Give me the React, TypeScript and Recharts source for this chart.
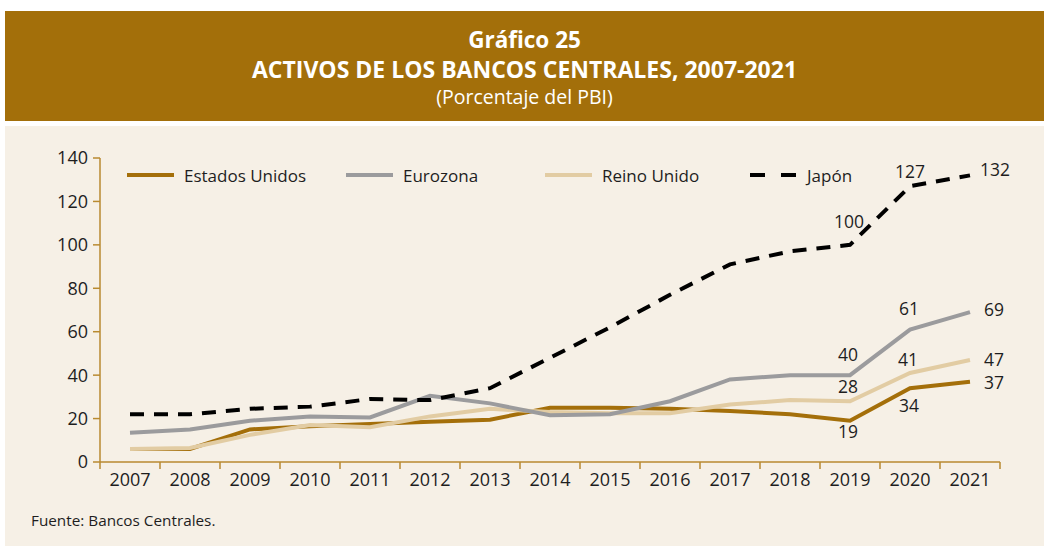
import React from "react";
import { LineChart, Line, XAxis, YAxis, LabelList } from "recharts";

const years = [2007, 2008, 2009, 2010, 2011, 2012, 2013, 2014, 2015, 2016, 2017, 2018, 2019, 2020, 2021];
const estadosUnidos = [6, 6, 15, 16.5, 17.5, 18.5, 19.5, 25, 25, 24.5, 23.5, 22, 19, 34, 37];
const eurozona = [13.5, 15, 19, 21, 20.5, 30.5, 27, 21.5, 22, 28, 38, 40, 40, 61, 69];
const reinoUnido = [6, 6.5, 12.5, 17, 16, 21, 24.5, 23, 22.5, 22.5, 26.5, 28.5, 28, 41, 47];
const japon = [22, 22, 24.5, 25.5, 29, 28.5, 34, 48, 62, 77, 91, 97, 100, 127, 132];
const yTicks = [0, 20, 40, 60, 80, 100, 120, 140];

const data = years.map((year, i) => ({
  year,
  eeuu: estadosUnidos[i],
  euro: eurozona[i],
  uk: reinoUnido[i],
  jp: japon[i],
}));

const FONT = "'Open Sans', 'Noto Sans', sans-serif";
const BROWN = "#a46f0a";
const GREY = "#9b9b9d";
const TAN = "#e2cca3";
const AXIS = "#b98a30";
const TEXT = "#1e1e1e";

const CHART_W = 1039;
const CHART_H = 420;
const MARGIN = { top: 32, right: 44, left: 0, bottom: 0 };
const Y_W = 95;
const PLOT_W = CHART_W - MARGIN.left - MARGIN.right - Y_W;
const BAND = PLOT_W / years.length;

// label offsets (centre of text relative to the point), by year index
type LabelPos = Record<number, [number, number]>;
const jpLabels: LabelPos = { 12: [-1, -24], 13: [0, -15], 14: [25, -6] };
const euroLabels: LabelPos = { 12: [-2, -21], 13: [-1, -22], 14: [24, -3] };
const ukLabels: LabelPos = { 12: [-2, -15], 13: [-2, -14], 14: [24, -1] };
const eeuuLabels: LabelPos = { 12: [-2, 10], 13: [-1, 17], 14: [24, 0] };

const makeLabel = (pos: LabelPos) => (props: any) => {
  const { x, y, value, index } = props;
  const p = pos[index];
  if (!p) return null;
  return (
    <text
      x={x + p[0]}
      y={y + p[1]}
      textAnchor="middle"
      dominantBaseline="central"
      fontSize={17.5}
      fontFamily={FONT}
      fill={TEXT}
    >
      {Math.round(value)}
    </text>
  );
};

const XTick = (props: any) => {
  const { x, y, payload, index } = props;
  const last = index === years.length - 1;
  return (
    <g>
      <line x1={x - BAND / 2} x2={x - BAND / 2} y1={y - 8} y2={y - 1} stroke={AXIS} strokeWidth={1.5} />
      {last && <line x1={x + BAND / 2} x2={x + BAND / 2} y1={y - 8} y2={y - 1} stroke={AXIS} strokeWidth={1.5} />}
      <text x={x} y={y + 9} textAnchor="middle" dominantBaseline="central" fontSize={18} fontFamily={FONT} fill={TEXT}>
        {payload.value}
      </text>
    </g>
  );
};

const legendItems = [
  { name: "Estados Unidos", color: BROWN, dash: undefined, x: 122 },
  { name: "Eurozona", color: GREY, dash: undefined, x: 341 },
  { name: "Reino Unido", color: TAN, dash: undefined, x: 540 },
  { name: "Japón", color: "#000", dash: "15 16", x: 745 },
];

const ChartLegend = () => (
  <svg width={900} height={24} style={{ position: "absolute", left: 0, top: 37, overflow: "visible" }}>
    {legendItems.map((it) => (
      <g key={it.name}>
        <line x1={it.x} x2={it.x + 47} y1={12} y2={12} stroke={it.color} strokeWidth={4} strokeDasharray={it.dash} />
        <text x={it.x + 57} y={12} dominantBaseline="central" fontSize={17} fontFamily={FONT} fill={TEXT}>
          {it.name}
        </text>
      </g>
    ))}
  </svg>
);

export default function App() {
  return (
    <div style={{ position: "absolute", left: 0, top: 0, width: 1044, height: 546, background: "#fff", fontFamily: FONT }}>
      <div
        style={{
          position: "absolute",
          left: 5,
          top: 11,
          width: 1039,
          height: 110,
          background: "#a36f0a",
          color: "#fff",
          textAlign: "center",
        }}
      >
        <div style={{ position: "absolute", top: 15, width: "100%", fontSize: 22.5, fontWeight: 700, lineHeight: "28px" }}>
          Gráfico 25
        </div>
        <div style={{ position: "absolute", top: 44, width: "100%", fontSize: 23, fontWeight: 700, lineHeight: "28px" }}>
          ACTIVOS DE LOS BANCOS CENTRALES, 2007-2021
        </div>
        <div style={{ position: "absolute", top: 72, width: "100%", fontSize: 19.5, fontWeight: 400, lineHeight: "28px" }}>
          (Porcentaje del PBI)
        </div>
      </div>
      <div style={{ position: "absolute", left: 5, top: 126, width: 1039, height: 420, background: "#f6f0e6" }}>
        <LineChart width={CHART_W} height={CHART_H} data={data} margin={MARGIN}>
          <XAxis
            dataKey="year"
            type="number"
            domain={[2006.5, 2021.5]}
            ticks={years}
            tick={<XTick />}
            tickLine={false}
            axisLine={{ stroke: AXIS, strokeWidth: 1.5 }}
            height={84}
            interval={0}
          />
          <YAxis
            domain={[0, 140]}
            ticks={yTicks}
            width={Y_W}
            tickSize={7}
            tickMargin={5}
            axisLine={{ stroke: AXIS, strokeWidth: 1.5 }}
            tickLine={{ stroke: AXIS, strokeWidth: 1.5 }}
            tick={{ fontSize: 18, fontFamily: FONT, fill: TEXT }}
          />
          <Line dataKey="eeuu" stroke={BROWN} strokeWidth={4} dot={false} isAnimationActive={false}>
            <LabelList dataKey="eeuu" content={makeLabel(eeuuLabels)} />
          </Line>
          <Line dataKey="uk" stroke={TAN} strokeWidth={4} dot={false} isAnimationActive={false}>
            <LabelList dataKey="uk" content={makeLabel(ukLabels)} />
          </Line>
          <Line dataKey="euro" stroke={GREY} strokeWidth={4} dot={false} isAnimationActive={false}>
            <LabelList dataKey="euro" content={makeLabel(euroLabels)} />
          </Line>
          <Line dataKey="jp" stroke="#000" strokeWidth={4} strokeDasharray="14 10" dot={false} isAnimationActive={false}>
            <LabelList dataKey="jp" content={makeLabel(jpLabels)} />
          </Line>
        </LineChart>
        <ChartLegend />
        <div style={{ position: "absolute", left: 26, top: 384, fontSize: 15.3, color: TEXT }}>Fuente: Bancos Centrales.</div>
      </div>
    </div>
  );
}
